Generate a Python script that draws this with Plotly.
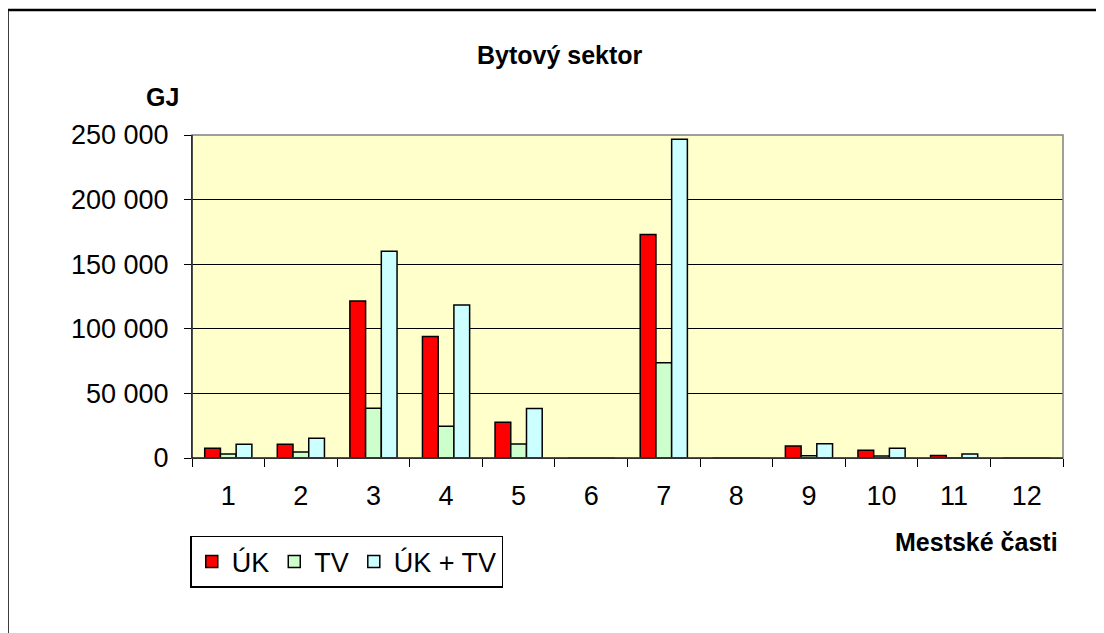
import plotly.graph_objects as go

categories = ["1", "2", "3", "4", "5", "6", "7", "8", "9", "10", "11", "12"]
uk = [7500, 10600, 121500, 94000, 27600, 0, 173000, 0, 9300, 6000, 2000, 0]
tv = [3100, 4600, 38500, 24500, 10800, 0, 73800, 0, 1700, 1500, 0, 0]
uk_tv = [10600, 15200, 160000, 118500, 38400, 0, 246800, 0, 11000, 7500, 3000, 0]
y_ticks = [0, 50000, 100000, 150000, 200000, 250000]
y_tick_labels = ["0", "50 000", "100 000", "150 000", "200 000", "250 000"]

FONT = "Liberation Sans, Arial, sans-serif"

fig = go.Figure()
for name, vals, col in [("ÚK", uk, "#FF0000"), ("TV", tv, "#CCFFCC"), ("ÚK + TV", uk_tv, "#CCFFFF")]:
    fig.add_trace(go.Bar(x=categories, y=vals, name=name,
                         marker=dict(color=col, line=dict(color="black", width=1.5))))

fig.update_layout(
    width=1104, height=633,
    margin=dict(l=184, r=49, t=127, b=183),
    paper_bgcolor="white", plot_bgcolor="#FFFFCC",
    barmode="group", bargap=0.35, bargroupgap=0,
    font=dict(family=FONT, size=27, color="black"),
    showlegend=True,
    legend=dict(orientation="h", x=-0.002, y=-0.241, xanchor="left", yanchor="top",
                bordercolor="black", borderwidth=1.5, bgcolor="white",
                font=dict(size=27), traceorder="normal"),
    xaxis=dict(type="category", tickson="boundaries", ticks="outside", ticklen=8,
               tickcolor="black", showline=True, linecolor="black", linewidth=1,
               showgrid=False, tickfont=dict(size=27), ticklabelstandoff=14),
    yaxis=dict(range=[0, 250000], tickvals=y_ticks, ticktext=y_tick_labels,
               ticks="outside", ticklen=7, tickcolor="black",
               showline=True, linecolor="black", linewidth=1,
               showgrid=True, gridcolor="black", gridwidth=1, zeroline=False,
               tickfont=dict(size=27), ticklabelstandoff=10),
    annotations=[
        dict(text="<b>Bytový sektor</b>", x=0.4225, y=1.248, xref="paper", yref="paper",
             showarrow=False, xanchor="center", yanchor="middle", font=dict(size=25)),
        dict(text="<b>GJ</b>", x=-0.0333, y=1.1176, xref="paper", yref="paper",
             showarrow=False, xanchor="center", yanchor="middle", font=dict(size=25)),
        dict(text="<b>Mestské časti</b>", x=0.9966, y=-0.26, xref="paper", yref="paper",
             showarrow=False, xanchor="right", yanchor="middle", font=dict(size=25)),
    ],
    shapes=[
        dict(type="rect", xref="paper", yref="paper", x0=0, x1=1, y0=0, y1=1,
             line=dict(color="#808080", width=1.5), layer="above"),
        dict(type="line", xref="paper", yref="paper", x0=-0.2118, x1=-0.2118, y0=1.387, y1=-0.6,
             line=dict(color="black", width=2.5)),
        dict(type="line", xref="paper", yref="paper", x0=-0.2118, x1=1.1, y0=1.387, y1=1.387,
             line=dict(color="black", width=2.5)),
        dict(type="line", xref="paper", yref="paper", x0=0, x1=0, y0=0, y1=1,
             line=dict(color="black", width=1)),
        dict(type="line", xref="paper", yref="paper", x0=0, x1=1, y0=0, y1=0,
             line=dict(color="black", width=1)),
    ],
)

fig.write_html("out.html")
